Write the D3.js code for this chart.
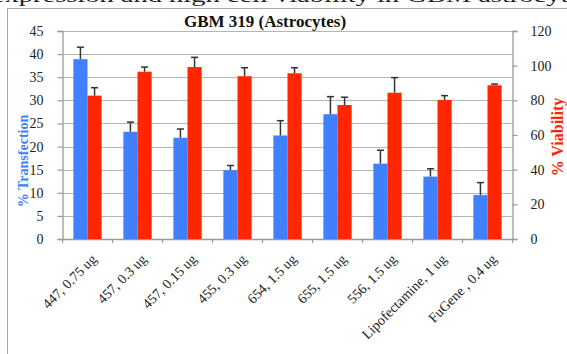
<!DOCTYPE html>
<html>
<head>
<meta charset="utf-8">
<script src="https://cdn.jsdelivr.net/npm/d3@7"></script>
<style>
  body { margin: 0; background: #fff; }
  text { font-family: "Liberation Serif", "Times New Roman", serif; }
</style>
</head>
<body>
<div id="chart"></div>
<script>
const categories = ["447, 0.75 ug", "457, 0.3 ug", "457, 0.15 ug", "455, 0.3 ug", "654, 1.5 ug",
  "655, 1.5 ug", "556, 1.5 ug", "Lipofectamine, 1 ug", "FuGene , 0.4 ug"];
const transfection = [38.9, 23.2, 21.9, 14.9, 22.4, 27.0, 16.3, 13.5, 9.5];
const transfectionErr = [2.6, 2.1, 1.9, 1.0, 3.2, 3.8, 2.9, 1.7, 2.7];
const viability = [82.7, 96.5, 99.2, 93.9, 95.6, 77.3, 84.4, 80.2, 88.7];
const viabilityErr = [4.6, 2.7, 5.6, 4.9, 3.2, 4.5, 8.7, 2.5, 0.7];
const leftTicks = [0, 5, 10, 15, 20, 25, 30, 35, 40, 45];
const rightTicks = [0, 20, 40, 60, 80, 100, 120];

const width = 567;
const height = 354;
const blue = "#4080ff";
const red = "#ff2600";
const plot = { left: 62.5, right: 512.5, top: 31, bottom: 239 };

const svg = d3.select("#chart").append("svg")
  .attr("width", width)
  .attr("height", height);

// page text cut off above the chart
svg.append("text")
  .attr("x", -8)
  .attr("y", 2)
  .attr("textLength", 600)
  .attr("lengthAdjust", "spacingAndGlyphs")
  .style("font-size", "19px")
  .attr("fill", "#222")
  .text("expression and high cell viability in GBM astrocytes");

// chart frame
svg.append("line").attr("x1", 7.5).attr("x2", 7.5).attr("y1", 8).attr("y2", height)
  .attr("stroke", "#a8a8a8");
svg.append("line").attr("x1", 7).attr("x2", width).attr("y1", 8.5).attr("y2", 8.5)
  .attr("stroke", "#a8a8a8");

const x = d3.scaleBand().domain(categories).range([plot.left, plot.right]);
const x1 = d3.scaleBand().domain(["t", "v"]).range([0, x.bandwidth()]).paddingOuter(0.77).paddingInner(0);
const yLeft = d3.scaleLinear().domain([0, 45]).range([plot.bottom, plot.top]);
const yRight = d3.scaleLinear().domain([0, 120]).range([plot.bottom, plot.top]);

// gridlines
svg.append("g")
  .selectAll("line")
  .data(leftTicks.slice(1))
  .join("line")
  .attr("x1", plot.left).attr("x2", plot.right)
  .attr("y1", (d) => Math.round(yLeft(d)) + 0.5)
  .attr("y2", (d) => Math.round(yLeft(d)) + 0.5)
  .attr("stroke", "#b5b5b5")
  .attr("stroke-width", 1.2);

// left axis
const leftAxis = svg.append("g")
  .attr("transform", `translate(${plot.left},0)`)
  .call(d3.axisLeft(yLeft).tickValues(leftTicks).tickSize(5).tickPadding(14));
// right axis
const rightAxis = svg.append("g")
  .attr("transform", `translate(${plot.right},0)`)
  .call(d3.axisRight(yRight).tickValues(rightTicks).tickSize(5).tickPadding(13));
// bottom axis
const bottomAxis = svg.append("g")
  .attr("transform", `translate(0,${plot.bottom})`)
  .call(d3.axisBottom(x).tickSize(0).tickFormat(""));

[leftAxis, rightAxis, bottomAxis].forEach((a) => {
  a.select(".domain").attr("stroke", "#999").attr("stroke-width", 1.3);
  a.selectAll(".tick line").attr("stroke", "#999").attr("stroke-width", 1.2);
  a.selectAll(".tick text")
    .style("font-family", "'Liberation Serif', serif")
    .style("font-size", "14px")
    .attr("fill", "#222");
});
leftAxis.selectAll(".tick text").attr("text-anchor", "end");

// category boundary ticks
svg.append("g")
  .selectAll("line")
  .data(categories.concat([null]))
  .join("line")
  .attr("x1", (d, i) => plot.left + i * x.step())
  .attr("x2", (d, i) => plot.left + i * x.step())
  .attr("y1", plot.bottom)
  .attr("y2", plot.bottom + 4)
  .attr("stroke", "#999")
  .attr("stroke-width", 1.2);

// bars
const groups = svg.append("g")
  .selectAll("g")
  .data(categories)
  .join("g")
  .attr("transform", (d) => `translate(${x(d)},0)`);

groups.append("rect")
  .attr("x", x1("t"))
  .attr("width", x1.bandwidth())
  .attr("y", (d, i) => yLeft(transfection[i]))
  .attr("height", (d, i) => plot.bottom - yLeft(transfection[i]))
  .attr("fill", blue);

groups.append("rect")
  .attr("x", x1("v"))
  .attr("width", x1.bandwidth())
  .attr("y", (d, i) => yRight(viability[i]))
  .attr("height", (d, i) => plot.bottom - yRight(viability[i]))
  .attr("fill", red);

// error bars (upper only)
function errorBar(key, scale, vals, errs) {
  const cx = x1(key) + x1.bandwidth() / 2;
  groups.append("line")
    .attr("x1", cx).attr("x2", cx)
    .attr("y1", (d, i) => scale(vals[i]))
    .attr("y2", (d, i) => scale(vals[i] + errs[i]))
    .attr("stroke", "#333")
    .attr("stroke-width", 1.5);
  groups.append("line")
    .attr("x1", cx - 3.5).attr("x2", cx + 3.5)
    .attr("y1", (d, i) => scale(vals[i] + errs[i]))
    .attr("y2", (d, i) => scale(vals[i] + errs[i]))
    .attr("stroke", "#333")
    .attr("stroke-width", 1.5);
}
errorBar("t", yLeft, transfection, transfectionErr);
errorBar("v", yRight, viability, viabilityErr);

// x labels
svg.append("g")
  .selectAll("text")
  .data(categories)
  .join("text")
  .attr("text-anchor", "end")
  .attr("transform", (d) => `translate(${x(d) + x.bandwidth() / 2 + 10},${plot.bottom + 21}) rotate(-45)`)
  .style("font-size", "14px")
  .attr("fill", "#222")
  .text((d) => d);

// title
svg.append("text")
  .attr("x", 265)
  .attr("y", 26.5)
  .attr("text-anchor", "middle")
  .style("font-size", "17px")
  .style("font-weight", "bold")
  .attr("fill", "#111")
  .text("GBM 319 (Astrocytes)");

// axis titles
svg.append("text")
  .attr("transform", "translate(28,161) rotate(-90)")
  .attr("text-anchor", "middle")
  .style("font-size", "14px")
  .style("font-weight", "bold")
  .attr("fill", blue)
  .text("% Transfection");

svg.append("text")
  .attr("transform", "translate(563,137) rotate(-90)")
  .attr("text-anchor", "middle")
  .style("font-size", "16px")
  .style("font-weight", "bold")
  .attr("fill", red)
  .text("% Viability");
</script>
</body>
</html>
